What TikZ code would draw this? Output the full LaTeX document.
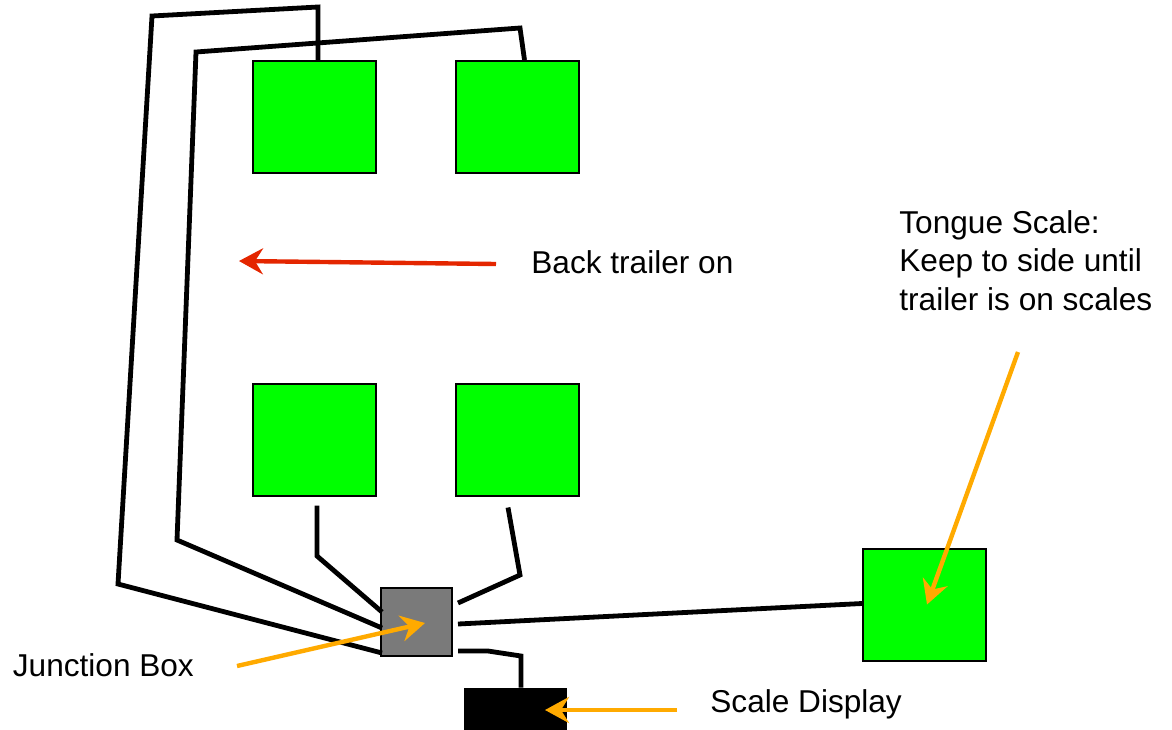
\documentclass[tikz,border=0pt]{standalone}
\usepackage{fontspec}
\setmainfont{Liberation Sans}
\usetikzlibrary{arrows.meta}

\definecolor{padgreen}{RGB}{0,255,0}
\definecolor{boxgray}{RGB}{122,122,122}
\definecolor{backred}{RGB}{228,38,0}
\definecolor{noteorange}{RGB}{255,170,0}

\tikzset{
    pad/.style={draw=black, line width=1pt, fill=padgreen, inner sep=0pt,
        minimum width=61.5pt, minimum height=56pt},
    wire/.style={black, line width=2.4pt},
    pointer/.style={line width=2.2pt, -{Stealth[length=12pt,width=13pt,inset=4pt]}},
    note/.style={inner sep=0pt, font=\fontsize{15.8}{19.25}\selectfont}
}

\begin{document}
\begin{tikzpicture}[x=0.5pt, y=-0.5pt]
    \useasboundingbox (0,0) rectangle (1172,729);
    % load cells
    \node[pad] (p1) at (314.5,117) {};
    \node[pad] (p2) at (517,117) {};
    \node[pad] (p3) at (314.5,439.5) {};
    \node[pad] (p4) at (517,439.5) {};
    \node[pad] (tongue) at (924.5,604.5) {};
    % junction box and display
    \node[draw=black, line width=1pt, fill=boxgray, inner sep=0pt,
        minimum width=35.5pt, minimum height=34pt] (jbox) at (416.5,622) {};
    \node[draw=black, fill=black, inner sep=0pt,
        minimum width=51pt, minimum height=24pt] (disp) at (515.5,712) {};
    % wires
    \draw[wire] ([xshift=1.75pt]p1.north) -- (318,7) -- (152,16) -- (118,584)
        -- ([xshift=1pt,yshift=-15.5pt]jbox.west);
    \draw[wire] ([xshift=3.75pt]p2.north) -- (520,28) -- (196,52) -- (177,540)
        -- ([xshift=1pt,yshift=-3pt]jbox.west);
    \draw[wire] ([xshift=1.25pt,yshift=-4.5pt]p3.south) -- (317,556)
        -- ([xshift=1pt,yshift=5pt]jbox.west);
    \draw[wire] ([xshift=-4.5pt,yshift=-5.5pt]p4.south) -- (520,575)
        -- ([xshift=2.5pt,yshift=9.5pt]jbox.east);
    \draw[wire] ([xshift=2.5pt,yshift=-1pt]jbox.east) -- ([yshift=0.5pt]tongue.west);
    \draw[wire] ([xshift=2.5pt,yshift=-14.5pt]jbox.east) -- (488,651) -- (521,656)
        -- ([xshift=2.75pt]disp.north);
    % labels
    \node[note, anchor=base west] (backlbl) at (531,273) {Back trailer on};
    \node[note, anchor=north west, align=left] (tonguelbl) at (899,210)
        {Tongue Scale:\\Keep to side until\\trailer is on scales};
    \node[note, anchor=base west] (jboxlbl) at (12.5,676) {Junction Box};
    \node[note, anchor=base west] (displbl) at (710,712) {Scale Display};
    % pointers
    \coordinate (backtail) at (496,264);
    \coordinate (backtip) at (239,261);
    \coordinate (jboxtail) at (237,666);
    \coordinate (tonguetail) at (1018,352);
    \coordinate (disptail) at (677,710);
    \draw[pointer, backred] (backtail) -- (backtip);
    \draw[pointer, noteorange] (jboxtail) -- ([xshift=4.25pt,yshift=-0.5pt]jbox.center);
    \draw[pointer, noteorange] (tonguetail) -- ([xshift=1.25pt]tongue.center);
    \draw[pointer, noteorange] (disptail) -- ([xshift=14.75pt,yshift=1pt]disp.center);
\end{tikzpicture}
\end{document}
